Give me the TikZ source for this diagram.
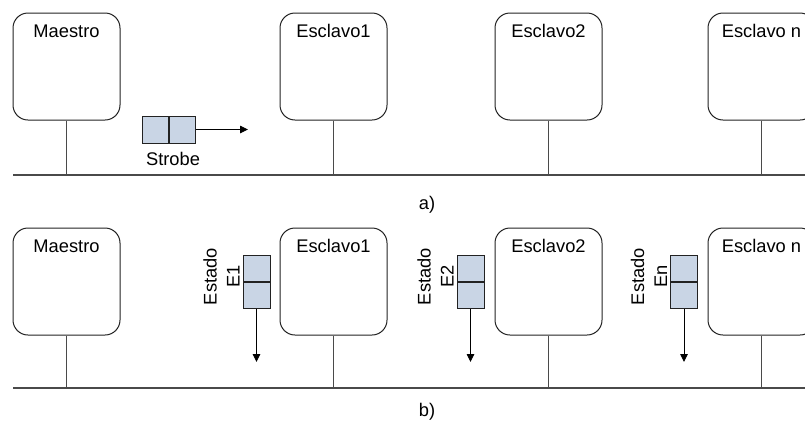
\documentclass[tikz,border=0pt]{standalone}
\usepackage{fontspec}
\setmainfont{Liberation Sans}
\usetikzlibrary{arrows.meta,calc}

\definecolor{cellfill}{HTML}{C9D5E5}
\definecolor{wire}{HTML}{4A4A4A}
\definecolor{edge}{HTML}{222222}

\tikzset{
  device/.style={draw=edge, line width=1pt, rounded corners=15pt,
                 minimum width=107pt, minimum height=107pt, inner sep=0pt},
  devlabel/.style={anchor=base, font=\fontsize{18.3}{22}\selectfont, inner sep=0pt},
  txt/.style={anchor=base, font=\fontsize{18.3}{22}\selectfont, inner sep=0pt},
  vtxt/.style={txt, rotate=90},
  cell/.style={draw=edge, fill=cellfill, line width=0.9pt, inner sep=0pt},
  bus/.style={draw=wire, line width=1.1pt},
  flow/.style={draw=black, line width=0.9pt, -{Triangle[length=8pt,width=7.5pt]}}
}

\begin{document}
\begin{tikzpicture}[x=1pt,y=-1pt]
  \useasboundingbox (0,0) rectangle (805,421);

  % ---------------- a) strobe broadcast ----------------
  \node[device] (ma) at (66.5,66.5) {};
  \node[device] (e1a) at (333.5,66.5) {};
  \node[device] (e2a) at (548.5,66.5) {};
  \node[device] (ena) at (761.5,66.5) {};
  \node[devlabel] at ($(ma.north)+(0,25)$) {Maestro};
  \node[devlabel] at ($(e1a.north)+(0,25)$) {Esclavo1};
  \node[devlabel] at ($(e2a.north)+(0,25)$) {Esclavo2};
  \node[devlabel] at ($(ena.north)+(0,25)$) {Esclavo n};

  \coordinate (busaL) at (13,175);
  \coordinate (busaR) at (805,175);
  \draw[bus] (busaL) -- (busaR);
  \foreach \d in {ma,e1a,e2a,ena}
    \draw[bus] (\d.south) -- (\d.south |- busaL);

  % strobe token: two cells and its direction
  \node[cell, minimum width=26.5pt, minimum height=27pt] (sa) at (155.25,129.5) {};
  \node[cell, minimum width=26.5pt, minimum height=27pt, anchor=west] (sb) at (sa.east) {};
  \coordinate (sEnd) at (248,129.5);
  \draw[flow] (sb.east) -- (sEnd);
  \node[txt] at (173,165) {Strobe};

  \node[txt] at (427,209) {a)};

  % ---------------- b) status reply ----------------
  \node[device] (mb) at (66.5,281.5) {};
  \node[device] (e1b) at (333.5,281.5) {};
  \node[device] (e2b) at (548.5,281.5) {};
  \node[device] (enb) at (761.5,281.5) {};
  \node[devlabel] at ($(mb.north)+(0,25)$) {Maestro};
  \node[devlabel] at ($(e1b.north)+(0,25)$) {Esclavo1};
  \node[devlabel] at ($(e2b.north)+(0,25)$) {Esclavo2};
  \node[devlabel] at ($(enb.north)+(0,25)$) {Esclavo n};

  \coordinate (busbL) at (13,388);
  \coordinate (busbR) at (805,388);
  \draw[bus] (busbL) -- (busbR);
  \foreach \d in {mb,e1b,e2b,enb}
    \draw[bus] (\d.south) -- (\d.south |- busbL);

  % status registers (two stacked cells) sent towards the bus
  \foreach \n/\x/\lab in {r1/256.5/E1, r2/470.5/E2, rn/684/En}{
    \node[cell, minimum width=27pt, minimum height=26.5pt] (\n top) at (\x,268.25) {};
    \node[cell, minimum width=27pt, minimum height=26.5pt, anchor=north] (\n bot) at (\n top.south) {};
    \coordinate (\n end) at (\x,362);
    \draw[flow] (\n bot.south) -- (\n end);
    \node[vtxt] at ($(\n top.north west)+(-26,22)$) {Estado};
    \node[vtxt] at ($(\n top.north west)+(-3,22)$) {\lab};
  }

  \node[txt] at (427,416.5) {b)};
\end{tikzpicture}
\end{document}
